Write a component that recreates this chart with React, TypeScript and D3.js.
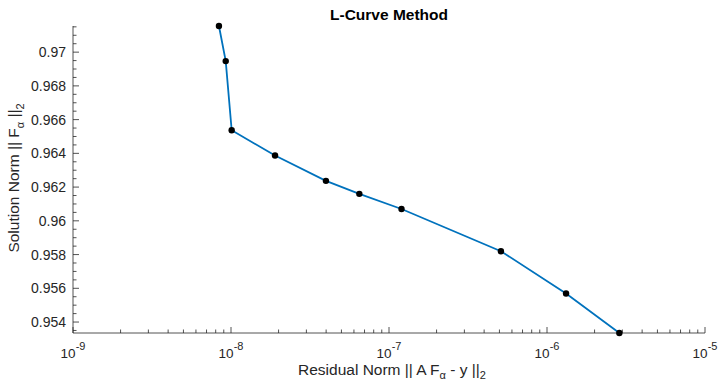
import React from "react";
import * as d3 from "d3";

const residualNorm = [8.39e-9, 9.26e-9, 1.01e-8, 1.9e-8, 3.99e-8, 6.49e-8, 1.2e-7, 5.11e-7, 1.32e-6, 2.87e-6];
const solutionNorm = [0.97155, 0.96947, 0.96537, 0.96387, 0.96237, 0.9616, 0.9607, 0.9582, 0.95569, 0.95335];
const xDecades = [-9, -8, -7, -6, -5];
const yTicks = [0.954, 0.956, 0.958, 0.96, 0.962, 0.964, 0.966, 0.968, 0.97];
const title = "L-Curve Method";

const W = 720, H = 383;
const M = { left: 73, right: 705, top: 26, bottom: 333 };
const axisColor = "#262626";
const font = "'Liberation Sans', Arial, Helvetica, sans-serif";

export default function App() {
  const x = d3.scaleLog().domain([1e-9, 1e-5]).range([M.left, M.right]);
  const yMin = d3.min(solutionNorm)!;
  const yMax = d3.max(solutionNorm)!;
  const y = d3.scaleLinear().domain([yMin, yMax]).range([M.bottom, M.top]);

  const pts: [number, number][] = residualNorm.map((r, i) => [r, solutionNorm[i]]);
  const line = d3.line<[number, number]>().x(d => x(d[0])).y(d => y(d[1]));

  const xMinor: number[] = [];
  for (let e = -9; e < -5; e++) for (let k = 2; k <= 9; k++) xMinor.push(k * Math.pow(10, e));
  const yMinor: number[] = [];
  for (let v = 0.9535; v <= yMax + 1e-9; v += 0.0005) {
    const r = Math.round(v * 10000) / 10000;
    if (r >= yMin && Math.abs((r * 1000) % 2) > 1e-6) yMinor.push(r);
  }

  return (
    <svg width={W} height={H} style={{ position: "fixed", left: 0, top: 0, background: "#fff" }} fontFamily={font}>
      <rect width={W} height={H} fill="#fff" />
      <text x={(M.left + M.right) / 2} y={20} textAnchor="middle" fontSize={15.5} fontWeight="bold" fill="#000">{title}</text>

      {/* axes lines */}
      <line x1={M.left} x2={M.right} y1={M.bottom} y2={M.bottom} stroke={axisColor} strokeWidth={0.8} />
      <line x1={M.left} x2={M.left} y1={M.top} y2={M.bottom} stroke={axisColor} strokeWidth={0.8} />

      {/* x ticks */}
      {xDecades.map(e => {
        const px = x(Math.pow(10, e));
        return (
          <g key={"xd" + e}>
            <line x1={px} x2={px} y1={M.bottom} y2={M.bottom - 6} stroke={axisColor} strokeWidth={0.8} />
            <text x={px} y={358} textAnchor="middle" fontSize={13.5} fill={axisColor}>
              10<tspan dy={-8} fontSize={11}>{String(e)}</tspan>
            </text>
          </g>
        );
      })}
      {xMinor.map((v, i) => (
        <line key={"xm" + i} x1={x(v)} x2={x(v)} y1={M.bottom} y2={M.bottom - 3.5} stroke={axisColor} strokeWidth={0.8} />
      ))}

      {/* y ticks */}
      {yTicks.map(t => (
        <g key={"yt" + t}>
          <line x1={M.left} x2={M.left + 6} y1={y(t)} y2={y(t)} stroke={axisColor} strokeWidth={0.8} />
          <text x={66} y={y(t) + 5} textAnchor="end" fontSize={14} fill={axisColor}>{String(t)}</text>
        </g>
      ))}
      {yMinor.map((v, i) => (
        <line key={"ym" + i} x1={M.left} x2={M.left + 3.5} y1={y(v)} y2={y(v)} stroke={axisColor} strokeWidth={0.8} />
      ))}

      {/* x label */}
      <text x={392} y={375} textAnchor="middle" fontSize={15.5} fill={axisColor}>
        Residual Norm || A F<tspan dy={4} fontSize={11}>α</tspan><tspan dy={-4}> - y ||</tspan><tspan dy={4} fontSize={11}>2</tspan>
      </text>

      {/* y label */}
      <text transform="translate(19,178) rotate(-90)" textAnchor="middle" fontSize={15.5} fill={axisColor}>
        Solution Norm || F<tspan dy={5} fontSize={11}>α</tspan><tspan dy={-5}> ||</tspan><tspan dy={5} fontSize={11}>2</tspan>
      </text>

      {/* data */}
      <path d={line(pts) || ""} fill="none" stroke="#0072BD" strokeWidth={1.8} />
      {pts.map((p, i) => (
        <circle key={"p" + i} cx={x(p[0])} cy={y(p[1])} r={3.2} fill="#000" />
      ))}
    </svg>
  );
}
